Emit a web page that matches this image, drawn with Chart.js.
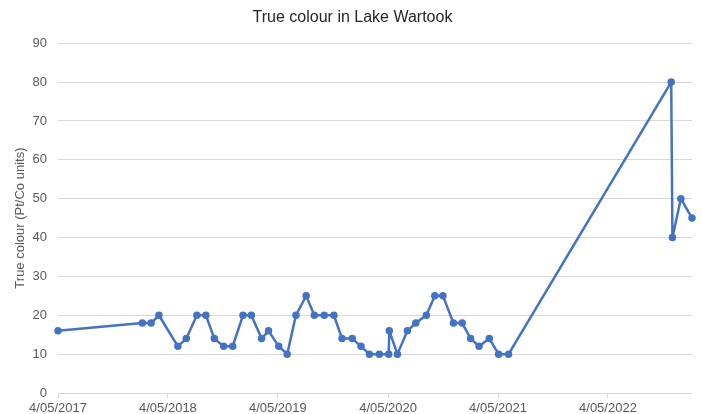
<!DOCTYPE html>
<html>
<head>
<meta charset="utf-8">
<script src="https://cdn.jsdelivr.net/npm/chart.js@4"></script>
<style>
  body { margin: 0; background: #fff; }
  #wrap { width: 702px; height: 414px; }
</style>
</head>
<body>
<div id="wrap"><canvas id="colourChart" width="702" height="414"></canvas></div>
<script>
// sample dates (yyyy-mm-dd) and true colour readings
const sampleDates = [
    '2017-05-04', '2018-02-08', '2018-03-09', '2018-04-04', '2018-06-06', '2018-07-04',
    '2018-08-08', '2018-09-07', '2018-10-05', '2018-11-05', '2018-12-05', '2019-01-08',
    '2019-02-05', '2019-03-11', '2019-04-03', '2019-05-07', '2019-06-04', '2019-07-03',
    '2019-08-06', '2019-09-02', '2019-10-05', '2019-11-06', '2019-12-03', '2020-01-06',
    '2020-02-04', '2020-03-03', '2020-04-05', '2020-05-06', '2020-05-08', '2020-06-04',
    '2020-07-07', '2020-08-04', '2020-09-08', '2020-10-06', '2020-11-02', '2020-12-07',
    '2021-01-05', '2021-02-02', '2021-03-02', '2021-04-05', '2021-05-06', '2021-06-08',
    '2022-11-30', '2022-12-04', '2023-01-01', '2023-02-07'
];
const trueColour = [
    16, 18, 18, 20, 12, 14,
    20, 20, 14, 12, 12, 20,
    20, 14, 16, 12, 10, 20,
    25, 20, 20, 20, 14, 14,
    12, 10, 10, 10, 16, 10,
    16, 18, 20, 25, 25, 18,
    18, 14, 12, 14, 10, 10,
    80, 40, 50, 45
];
const tickDates = ['2017-05-04', '2018-05-04', '2019-05-04', '2020-05-04', '2021-05-04', '2022-05-04'];
const yTicks = [0, 10, 20, 30, 40, 50, 60, 70, 80, 90];

const toDay = (s) => {
    const [y, m, d] = s.split('-').map(Number);
    return Date.UTC(y, m - 1, d) / 86400000;
};
const fmtDay = (v) => {
    const dt = new Date(v * 86400000);
    const mm = String(dt.getUTCMonth() + 1).padStart(2, '0');
    return dt.getUTCDate() + '/' + mm + '/' + dt.getUTCFullYear();
};

const points = sampleDates.map((d, i) => ({ x: toDay(d), y: trueColour[i] }));
const font = { family: '"Liberation Sans", Arial, sans-serif', size: 13 };
const grey = '#595959';
const blue = '#4472C4';

new Chart(document.getElementById('colourChart'), {
    type: 'line',
    data: {
        datasets: [{
            label: 'True colour',
            data: points,
            borderColor: blue,
            backgroundColor: blue,
            borderWidth: 2.5,
            borderJoinStyle: 'round',
            pointRadius: 2.5,
            pointHoverRadius: 2.5,
            tension: 0,
            clip: false
        }]
    },
    options: {
        responsive: false,
        animation: false,
        layout: { padding: { top: 0, right: 10, bottom: 0, left: 13 } },
        plugins: {
            legend: { display: false },
            tooltip: { enabled: false },
            title: {
                display: true,
                text: 'True colour in Lake Wartook',
                color: '#262626',
                font: { family: font.family, size: 16, weight: 'normal' },
                padding: { top: 8, bottom: 16 }
            }
        },
        scales: {
            x: {
                type: 'linear',
                min: toDay(sampleDates[0]),
                max: toDay(sampleDates[sampleDates.length - 1]),
                afterBuildTicks: (scale) => {
                    scale.ticks = tickDates.map(d => ({ value: toDay(d) }));
                },
                afterFit: (scale) => { scale.height = 21; },
                ticks: {
                    color: grey,
                    font: font,
                    padding: 3,
                    maxRotation: 0,
                    autoSkip: false,
                    callback: (v) => fmtDay(v)
                },
                grid: { drawOnChartArea: false, color: '#d9d9d9', tickLength: 5 },
                border: { display: false }
            },
            y: {
                min: 0,
                max: 90,
                afterBuildTicks: (scale) => {
                    scale.ticks = yTicks.map(v => ({ value: v }));
                },
                afterFit: (scale) => { scale.width = 45; },
                ticks: { color: grey, font: font, padding: 11 },
                grid: { color: '#d9d9d9', drawTicks: false },
                border: { display: false },
                title: {
                    display: true,
                    text: 'True colour (Pt/Co units)',
                    color: grey,
                    font: font,
                    padding: 0
                }
            }
        }
    }
});
</script>
</body>
</html>
